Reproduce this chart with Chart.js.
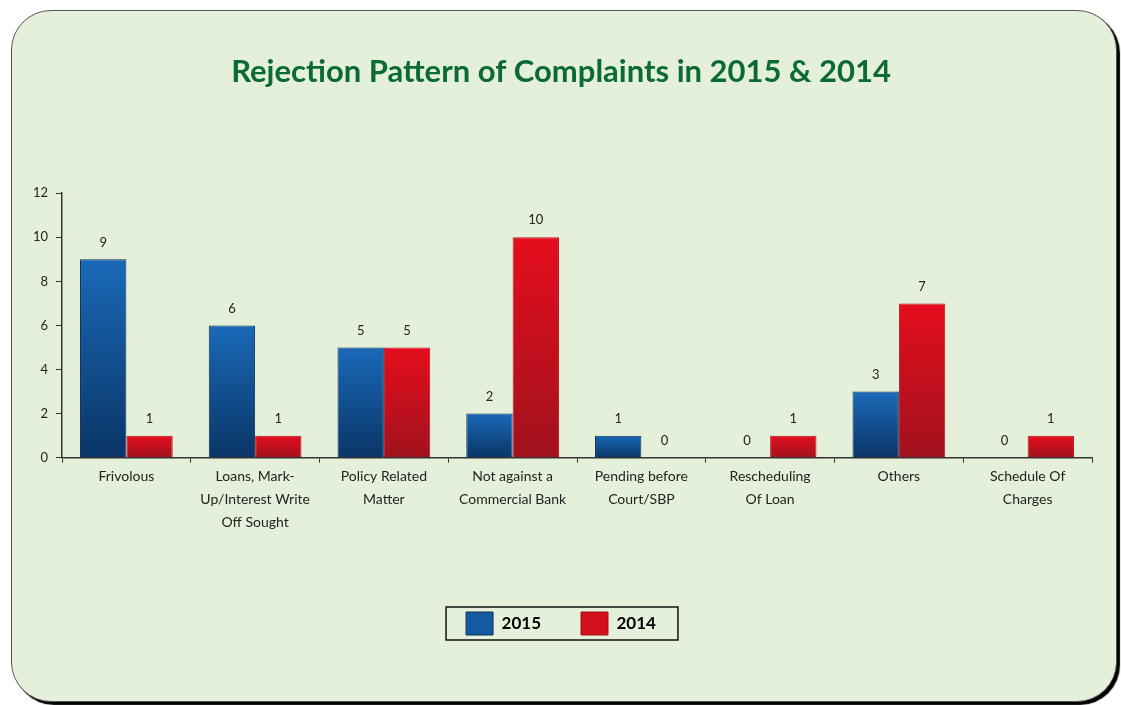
<!DOCTYPE html>
<html>
<head>
<meta charset="utf-8">
<script src="https://cdn.jsdelivr.net/npm/chart.js@4.4.0/dist/chart.umd.min.js"></script>
<style>
  html, body { margin: 0; padding: 0; background: #fff; }
  #panel {
    position: absolute; left: 11px; top: 10px; width: 1104px; height: 690px;
    background: #e4f0da; border: 1px solid #555; border-radius: 40px;
    box-shadow: 3px 3px 1px #000;
  }
  #chart { position: absolute; left: 0; top: 0; }
</style>
</head>
<body>
<div id="panel"></div>
<canvas id="chart" width="1121" height="705"></canvas>
<script>
// Categories (multi-line labels) and values per year
const categories = [
  ['Frivolous'],
  ['Loans, Mark-', 'Up/Interest Write', 'Off Sought'],
  ['Policy Related', 'Matter'],
  ['Not against a', 'Commercial Bank'],
  ['Pending before', 'Court/SBP'],
  ['Rescheduling', 'Of Loan'],
  ['Others'],
  ['Schedule Of', 'Charges']
];
const values2015 = [9, 6, 5, 2, 1, 0, 3, 0];
const values2014 = [1, 1, 5, 10, 0, 1, 7, 1];
const yTicks = [0, 2, 4, 6, 8, 10, 12];

// vertical gradient per bar, light at the top, dark at the base
function barGradient(top, bottom) {
  return (context) => {
    const chart = context.chart;
    const y = chart.scales.y;
    if (!chart.chartArea || !y || context.raw == null) return top;
    const y0 = y.getPixelForValue(context.raw);
    const y1 = y.getPixelForValue(0);
    if (y1 - y0 < 1) return top;
    const g = chart.ctx.createLinearGradient(0, y0, 0, y1);
    g.addColorStop(0, top);
    g.addColorStop(1, bottom);
    return g;
  };
}

// value labels above each bar
const valueLabels = {
  id: 'valueLabels',
  afterDatasetsDraw(chart) {
    const ctx = chart.ctx;
    ctx.save();
    ctx.font = '13px Lato, "DejaVu Sans", sans-serif';
    ctx.fillStyle = '#222';
    ctx.textAlign = 'center';
    ctx.textBaseline = 'middle';
    chart.data.datasets.forEach((ds, i) => {
      chart.getDatasetMeta(i).data.forEach((bar, j) => {
        ctx.fillText(String(ds.data[j]), bar.x, bar.y - 17);
      });
    });
    ctx.restore();
  }
};

// frame around the legend items
const legendFrame = {
  id: 'legendFrame',
  afterDraw(chart) {
    const boxes = chart.legend && chart.legend.legendHitBoxes;
    if (!boxes || !boxes.length) return;
    const left = Math.min(...boxes.map(b => b.left)) - 20;
    const right = Math.max(...boxes.map(b => b.left + b.width)) + 22;
    const top = Math.min(...boxes.map(b => b.top)) - 5;
    const bottom = Math.max(...boxes.map(b => b.top + b.height)) + 5;
    const ctx = chart.ctx;
    ctx.save();
    ctx.strokeStyle = '#111';
    ctx.lineWidth = 1.5;
    ctx.strokeRect(left, top, right - left, bottom - top);
    ctx.restore();
  }
};

const ctx = document.getElementById('chart').getContext('2d');
new Chart(ctx, {
  type: 'bar',
  data: {
    labels: categories,
    datasets: [
      {
        label: '2015',
        data: values2015,
        backgroundColor: barGradient('#1a69b8', '#0a3566'),
        borderColor: '#0e2f58',
        borderWidth: 1
      },
      {
        label: '2014',
        data: values2014,
        backgroundColor: barGradient('#e50d1d', '#a0121d'),
        borderColor: '#b8141f',
        borderWidth: 1
      }
    ]
  },
  options: {
    responsive: false,
    animation: false,
    categoryPercentage: 0.72,
    barPercentage: 1.0,
    layout: { padding: { left: 30, right: 29, top: 53, bottom: 60 } },
    plugins: {
      title: {
        display: true,
        text: 'Rejection Pattern of Complaints in 2015 & 2014',
        color: '#0c6a34',
        font: { family: 'Lato', size: 31, weight: 'bold' },
        padding: { top: 0, bottom: 103 }
      },
      legend: {
        position: 'bottom',
        labels: {
          color: '#111',
          boxWidth: 27,
          boxHeight: 23,
          padding: 40,
          font: { family: 'Lato', size: 17, weight: 'bold' },
          generateLabels(chart) {
            return chart.data.datasets.map((ds, i) => ({
              text: ds.label,
              fillStyle: i === 0 ? '#145aa0' : '#d30f1c',
              strokeStyle: i === 0 ? '#0e2f58' : '#a0121d',
              lineWidth: 1,
              datasetIndex: i
            }));
          }
        }
      },
      tooltip: { enabled: false }
    },
    scales: {
      x: {
        grid: { drawOnChartArea: false, tickLength: 5, color: '#333', offset: true },
        border: { color: '#333', width: 1.5 },
        ticks: {
          color: '#222',
          maxRotation: 0,
          autoSkip: false,
          padding: 2,
          font: { family: 'Lato', size: 14, lineHeight: 1.65 }
        },
        afterFit(scale) { scale.height += 36; }
      },
      y: {
        min: 0,
        max: 12,
        afterBuildTicks(scale) { scale.ticks = yTicks.map(v => ({ value: v })); },
        grid: { drawOnChartArea: false, tickLength: 6, color: '#333' },
        border: { color: '#333', width: 1.5 },
        ticks: {
          color: '#222',
          padding: 8,
          font: { family: 'Lato', size: 13 }
        },
        afterFit(scale) { scale.width = 32; }
      }
    }
  },
  plugins: [valueLabels, legendFrame]
});
</script>
</body>
</html>
